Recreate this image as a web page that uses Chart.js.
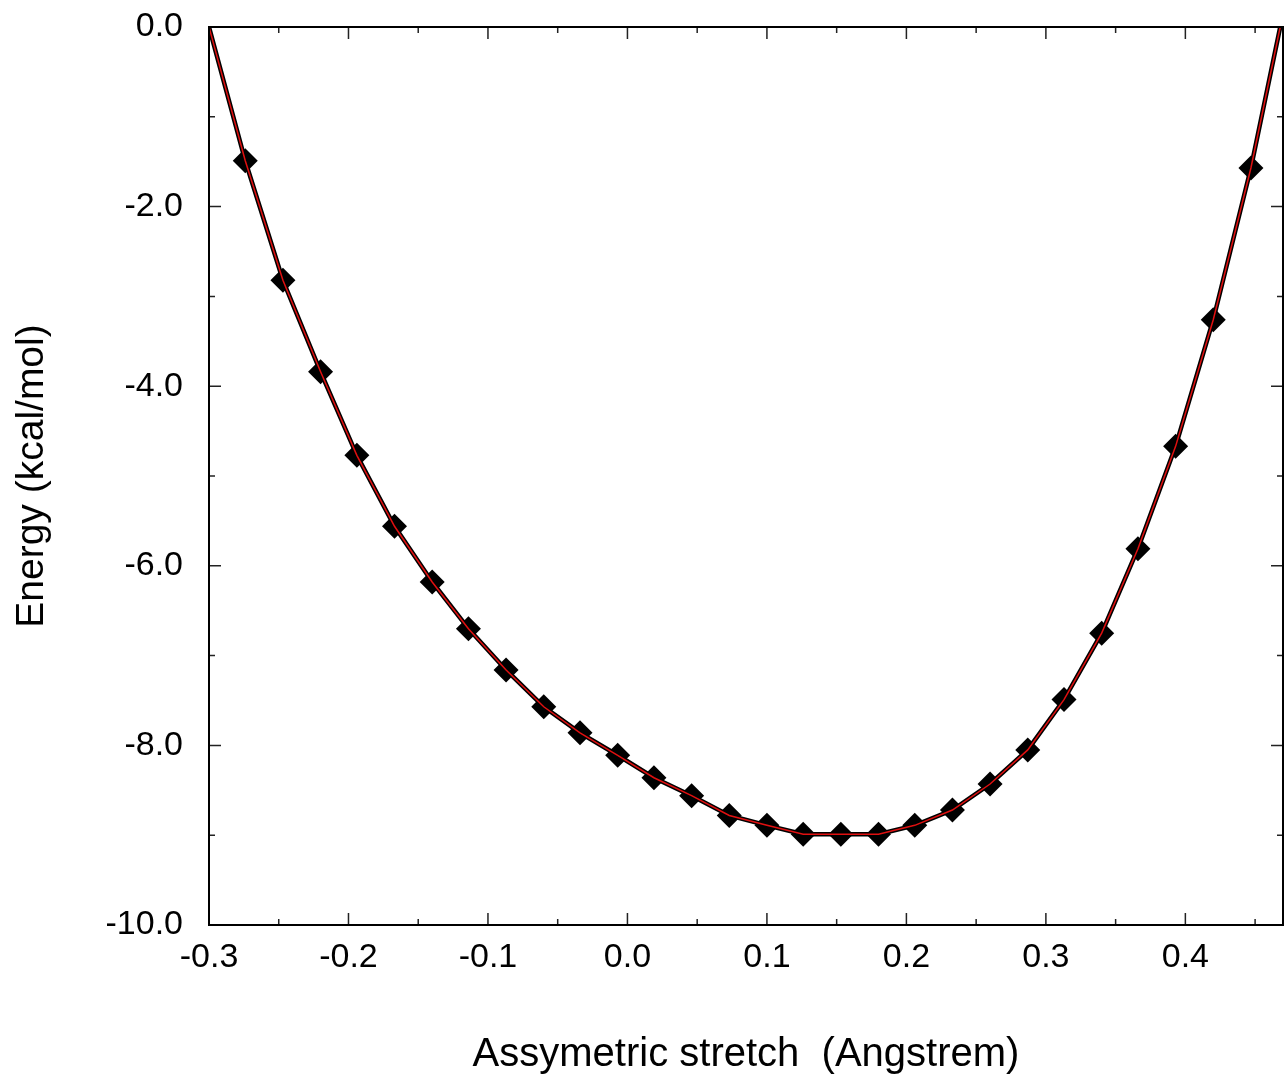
<!DOCTYPE html>
<html>
<head>
<meta charset="utf-8">
<script src="https://cdn.jsdelivr.net/npm/chart.js@4.4.0/dist/chart.umd.min.js"></script>
<style>
  html, body { margin: 0; padding: 0; background: #fff; overflow: hidden; }
  canvas { display: block; }
</style>
</head>
<body>
<canvas id="chartCanvas" width="1285" height="1088"></canvas>
<script>
// measured points (Angstrem, kcal/mol)
const stretch = [-0.274, -0.247, -0.220, -0.194, -0.167, -0.140, -0.114, -0.087, -0.060, -0.034,
                 -0.007, 0.019, 0.046, 0.073, 0.100, 0.126, 0.153, 0.180, 0.206, 0.233,
                 0.260, 0.287, 0.313, 0.340, 0.366, 0.393, 0.420, 0.447];
const energy = [-1.49, -2.82, -3.84, -4.77, -5.56, -6.18, -6.70, -7.16, -7.57, -7.86,
                -8.11, -8.36, -8.56, -8.78, -8.89, -8.99, -8.99, -8.99, -8.89, -8.72,
                -8.43, -8.05, -7.49, -6.75, -5.81, -4.67, -3.26, -1.57];
// curve ends on the frame at zero energy
const curveEndX = [-0.3, 0.468];
const curveEndY = [0, 0];

const xTicks = [-0.3, -0.2, -0.1, 0.0, 0.1, 0.2, 0.3, 0.4];
const yTicks = [-10, -8, -6, -4, -2, 0];

const points = stretch.map((x, i) => ({ x: x, y: energy[i] }));
const curve = [{ x: curveEndX[0], y: curveEndY[0] }, ...points, { x: curveEndX[1], y: curveEndY[1] }];

const frameTicks = {
    id: 'frameTicks',
    afterDatasetsDraw(chart) {
        const { ctx, chartArea: a, scales } = chart;
        const xs = scales.x, ys = scales.y;
        ctx.save();
        ctx.strokeStyle = '#222';
        ctx.lineWidth = 1.5;
        ctx.beginPath();
        for (let k = 0; k <= 15; k++) {
            const v = -0.3 + k * 0.05;
            const px = xs.getPixelForValue(v);
            const len = k % 2 === 0 ? 12 : 6;
            ctx.moveTo(px, a.bottom); ctx.lineTo(px, a.bottom - len);
            ctx.moveTo(px, a.top); ctx.lineTo(px, a.top + len);
        }
        for (let k = 0; k <= 10; k++) {
            const v = -10 + k;
            const py = ys.getPixelForValue(v);
            const len = k % 2 === 0 ? 12 : 6;
            ctx.moveTo(a.left, py); ctx.lineTo(a.left + len, py);
            ctx.moveTo(a.right, py); ctx.lineTo(a.right - len, py);
        }
        ctx.stroke();
        ctx.strokeStyle = '#000';
        ctx.lineWidth = 2;
        ctx.strokeRect(a.left, a.top, a.right - a.left, a.bottom - a.top);
        ctx.restore();
    }
};

const font = { family: "'Liberation Sans', Arial, sans-serif" };

new Chart(document.getElementById('chartCanvas').getContext('2d'), {
    type: 'scatter',
    data: {
        datasets: [
            {
                label: 'curve-red',
                data: curve,
                showLine: true,
                borderColor: '#e01010',
                borderWidth: 1.5,
                pointRadius: 0,
                tension: 0,
                order: 0
            },
            {
                label: 'curve-black',
                data: curve,
                showLine: true,
                borderColor: '#000',
                borderWidth: 4.5,
                pointRadius: 0,
                tension: 0,
                order: 1
            },
            {
                label: 'points',
                data: points,
                pointStyle: 'rectRot',
                pointRadius: 12.5,
                pointBackgroundColor: '#000',
                pointBorderColor: '#000',
                pointBorderWidth: 0,
                showLine: false,
                order: 2
            }
        ]
    },
    plugins: [frameTicks],
    options: {
        responsive: false,
        animation: false,
        layout: { autoPadding: false, padding: { top: 27, right: 2, left: 0, bottom: 0 } },
        plugins: { legend: { display: false }, tooltip: { enabled: false } },
        scales: {
            x: {
                type: 'linear',
                min: -0.3,
                max: 0.47,
                afterBuildTicks: (s) => { s.ticks = xTicks.map(v => ({ value: v })); },
                afterFit: (s) => { s.height = 163; s.paddingLeft = 0; s.paddingRight = 0; },
                grid: { display: false, drawTicks: false },
                border: { display: false },
                ticks: {
                    padding: 12,
                    color: '#000',
                    font: { ...font, size: 34 },
                    maxRotation: 0,
                    callback: (v) => v.toFixed(1)
                },
                title: {
                    display: true,
                    text: 'Assymetric stretch  (Angstrem)',
                    color: '#000',
                    font: { ...font, size: 40 },
                    padding: { top: 9, bottom: 9 }
                }
            },
            y: {
                type: 'linear',
                min: -10,
                max: 0,
                afterBuildTicks: (s) => { s.ticks = yTicks.map(v => ({ value: v })); },
                afterFit: (s) => { s.width = 209; s.paddingTop = 0; s.paddingBottom = 0; },
                grid: { display: false, drawTicks: false },
                border: { display: false },
                ticks: {
                    padding: 26,
                    color: '#000',
                    font: { ...font, size: 34 },
                    callback: (v) => v.toFixed(1)
                },
                title: {
                    display: true,
                    text: 'Energy (kcal/mol)',
                    color: '#000',
                    font: { ...font, size: 39 },
                    padding: { top: 9, bottom: 9 }
                }
            }
        }
    }
});
</script>
</body>
</html>
